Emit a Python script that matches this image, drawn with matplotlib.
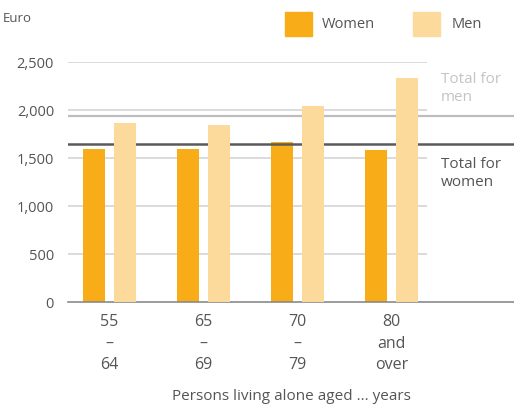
import matplotlib.pyplot as plt
import numpy as np

# data
groups = ['55\n–\n64', '65\n–\n69', '70\n–\n79', '80\nand\nover']
women = [1595, 1595, 1665, 1585]
men = [1860, 1845, 2040, 2335]
total_women = 1645
total_men = 1935
yticks = [0, 500, 1000, 1500, 2000, 2500]
ytick_labels = ['0', '500', '1,000', '1,500', '2,000', '2,500']

c_women = '#F8AC18'
c_men = '#FBDA9C'
txt = '#555555'

plt.rcParams['font.family'] = ['Open Sans', 'DejaVu Sans']

fig = plt.figure(figsize=(5.14, 4.07), dpi=100)
ax = fig.add_axes([68/514, 1 - 302/407, 446/514, 240/407])

x = np.arange(len(groups))
w = 0.234
off = 0.165

# gridlines (stop before the label area)
ax.hlines(yticks[1:], -0.44, 3.38, color='#d4d4d4', lw=1.2, zorder=0)
# totals
ax.axhline(total_men, color='#bdbdbd', lw=1.6, zorder=1)
ax.bar(x - off, women, w, color=c_women, zorder=2)
ax.axhline(total_women, color='#5a5a5a', lw=1.8, zorder=3)
ax.bar(x + off, men, w, color=c_men, zorder=4)

ax.set_xlim(-0.44, 4.3)
ax.set_ylim(0, 2500)
for s in ['top', 'right', 'left']:
    ax.spines[s].set_visible(False)
ax.spines['bottom'].set_color('#8a8a8a')
ax.spines['bottom'].set_linewidth(1.2)

ax.set_yticks(yticks)
ax.set_yticklabels(ytick_labels, color=txt, fontsize=10.5)
ax.set_xticks(x)
ax.set_xticklabels(groups, color=txt, fontsize=11.5, linespacing=1.42)
ax.tick_params(length=0)
ax.tick_params(axis='y', pad=10)
ax.tick_params(axis='x', pad=9)
ax.set_xlabel('Persons living alone aged ... years', color=txt, fontsize=11, labelpad=12)

ax.text(3.52, 2400, 'Total for\nmen', color='#c4c4c4', fontsize=11, va='top', linespacing=1.3)
ax.text(3.52, 1510, 'Total for\nwomen', color=txt, fontsize=11, va='top', linespacing=1.3)

fig.text(3/514, 1 - 19/407, 'Euro', color=txt, fontsize=9.5, va='center')

# legend
fig.patches.append(plt.Rectangle((285/514, 1 - 36/407), 27/514, 24/407,
                                 transform=fig.transFigure, color=c_women))
fig.text(322/514, 1 - 24/407, 'Women', color=txt, fontsize=10.5, va='center')
fig.patches.append(plt.Rectangle((413/514, 1 - 36/407), 27/514, 24/407,
                                 transform=fig.transFigure, color=c_men))
fig.text(452/514, 1 - 24/407, 'Men', color=txt, fontsize=10.5, va='center')

fig.savefig('out.png', dpi=100)
